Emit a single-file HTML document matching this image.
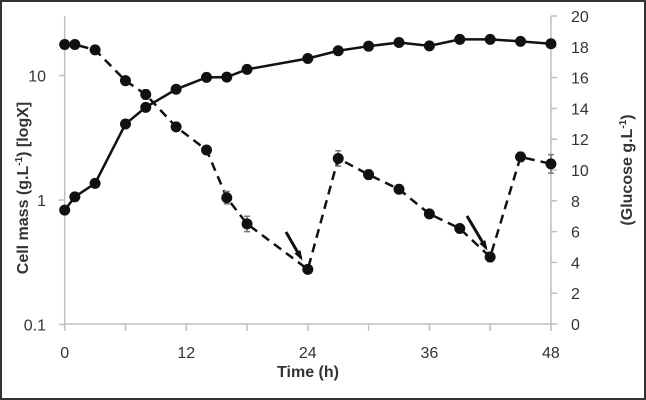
<!DOCTYPE html>
<html><head><meta charset="utf-8"><style>
body{margin:0;background:#fff}
svg{display:block;font-family:"Liberation Sans",sans-serif}
</style></head><body>
<svg id="c" width="646" height="400">
<rect x="1" y="1" width="644" height="398" fill="#fff" stroke="#333" stroke-width="2"/>
<g id="axes"></g><g id="marks"></g>
</svg>
<script>
const times=[0,1,3,6,8,11,14,16,18,24,27,30,33,36,39,42,45,48];
const cellMass=[0.83,1.06,1.36,4.08,5.55,7.75,9.66,9.7,11.2,13.7,15.8,17.2,18.4,17.3,19.5,19.5,18.8,18.0];
const glucose=[18.15,18.15,17.8,15.8,14.9,12.8,11.3,8.2,6.5,3.55,10.75,9.7,8.75,7.15,6.2,4.35,10.85,10.4];
const glucoseErr=[0,0,0,0,0.3,0,0,0.4,0.5,0,0.5,0.3,0,0,0,0.3,0.3,0.6];
const xTicks=[0,12,24,36,48];
const leftTicks=[0.1,1,10];
const rightTicks=[0,2,4,6,8,10,12,14,16,18,20];
const NS="http://www.w3.org/2000/svg";
const X=t=>64.7+t*10.13;
const YL=v=>200-Math.log10(v)*124.5;
const YR=v=>324-v*15.4;
const ax=document.getElementById('axes'),mk=document.getElementById('marks');
function el(p,tag,a,txt){const e=document.createElementNS(NS,tag);for(const k in a)e.setAttribute(k,a[k]);if(txt!=null)e.textContent=txt;p.appendChild(e);return e;}
const g='#bfbfbf';
let e;
e=el(ax,'line',{x1:X(0),y1:16,x2:X(0),y2:324,stroke:g,'stroke-width':1.5});

e=el(ax,'line',{x1:X(48),y1:16,x2:X(48),y2:324,stroke:g,'stroke-width':1.5});

e=el(ax,'line',{x1:X(0),y1:324,x2:X(48),y2:324,stroke:g,'stroke-width':1.5});

for(let t=0;t<=48;t+=6){el(ax,'line',{x1:X(t),y1:324,x2:X(t),y2:331,stroke:g,'stroke-width':1.5});}
xTicks.forEach(t=>{e=el(ax,'text',{x:X(t),y:358,'text-anchor':'middle','font-size':16,fill:'#333'},t);
});
leftTicks.forEach(v=>{el(ax,'line',{x1:X(0)-6,y1:YL(v),x2:X(0),y2:YL(v),stroke:g,'stroke-width':1.5});
e=el(ax,'text',{x:46,y:YL(v)+6,'text-anchor':'end','font-size':16,fill:'#333'},v);
});
rightTicks.forEach(v=>{el(ax,'line',{x1:X(48),y1:YR(v),x2:X(48)+6,y2:YR(v),stroke:g,'stroke-width':1.5});
e=el(ax,'text',{x:571,y:YR(v)+6,'text-anchor':'start','font-size':16,fill:'#333'},v);
});
e=el(ax,'text',{x:308,y:377,'text-anchor':'middle','font-size':16,'font-weight':'bold',fill:'#333'},'Time (h)');

e=el(ax,'text',{x:0,y:0,'text-anchor':'middle','font-size':16,'font-weight':'bold',fill:'#333',transform:'translate(28,188) rotate(-90)'});
e.innerHTML='Cell mass (g.L<tspan dy="-6" font-size="10">-1</tspan><tspan dy="6">) [logX]</tspan>';

e=el(ax,'text',{x:0,y:0,'text-anchor':'middle','font-size':16,'font-weight':'bold',fill:'#333',transform:'translate(632,170) rotate(-90)'});
e.innerHTML='(Glucose g.L<tspan dy="-6" font-size="10">-1</tspan><tspan dy="6">)</tspan>';

// glucose
e=el(mk,'polyline',{points:times.map((t,i)=>X(t)+','+YR(glucose[i])).join(' '),fill:'none',stroke:'#111','stroke-width':2.5,'stroke-dasharray':'9,6'});

times.forEach((t,i)=>{if(glucoseErr[i]>0){const x=X(t),y1=YR(glucose[i]+glucoseErr[i]),y2=YR(glucose[i]-glucoseErr[i]);
el(mk,'path',{d:`M${x},${y1}V${y2}M${x-3},${y1}H${x+3}M${x-3},${y2}H${x+3}`,stroke:'#777','stroke-width':1.5,fill:'none'});}
e=el(mk,'circle',{cx:X(t),cy:YR(glucose[i]),r:5.5,fill:'#111'});
});
// cell mass
e=el(mk,'polyline',{points:times.map((t,i)=>X(t)+','+YL(cellMass[i])).join(' '),fill:'none',stroke:'#111','stroke-width':2.5});

times.forEach((t,i)=>{e=el(mk,'circle',{cx:X(t),cy:YL(cellMass[i]),r:5.5,fill:'#111'});
});
// arrows
[[286,232,301,258],[467,216,486,248]].forEach(a=>{
e=el(mk,'line',{x1:a[0],y1:a[1],x2:a[2],y2:a[3],stroke:'#111','stroke-width':3});

const ang=Math.atan2(a[3]-a[1],a[2]-a[0]);const s=8;
const p=[[a[2]+3*Math.cos(ang),a[3]+3*Math.sin(ang)],[a[2]-s*Math.cos(ang-0.45),a[3]-s*Math.sin(ang-0.45)],[a[2]-s*Math.cos(ang+0.45),a[3]-s*Math.sin(ang+0.45)]];
el(mk,'polygon',{points:p.map(q=>q.join(',')).join(' '),fill:'#111'});});
</script>
</body></html>
